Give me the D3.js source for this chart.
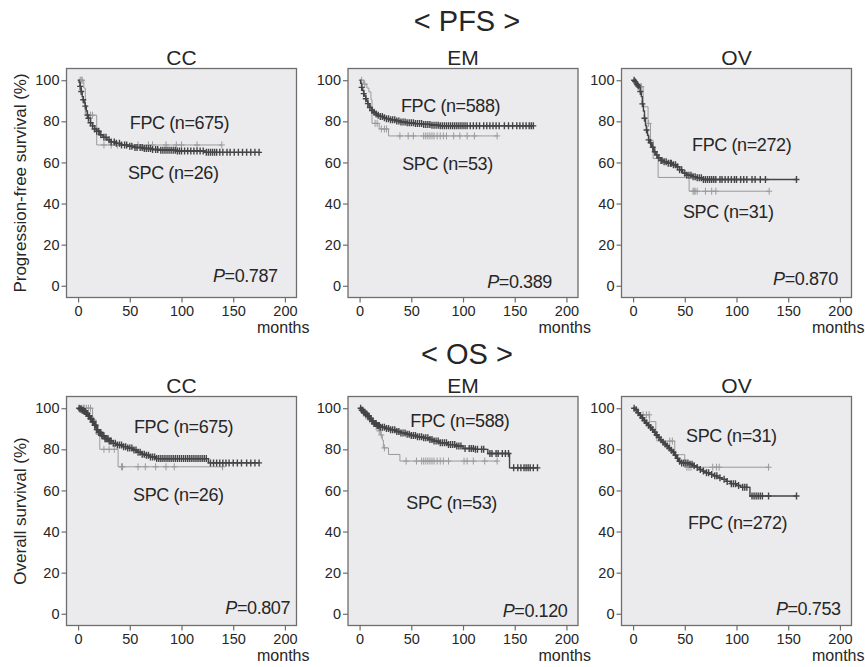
<!DOCTYPE html>
<html>
<head>
<meta charset="utf-8">
<script src="https://cdn.jsdelivr.net/npm/d3@7"></script>
<style>
  body { margin: 0; background: #fff; }
  text { font-family: "Liberation Sans", Arial, sans-serif; fill: #262626; }
</style>
</head>
<body>
<script>
// tick values
var monthTicks = [0, 50, 100, 150, 200];
var pctTicks = [0, 20, 40, 60, 80, 100];
var groups = ["PFS", "OS"];
var sites = ["CC", "EM", "OV"];
var yTitles = ["Progression-free survival (%)", "Overall survival (%)"];

// ---- PFS, CC ----
var pfsCcFpc = [[0,100],[1,99],[2,97],[3,94.5],[4,92],[5,90.5],[6,89],[7,87.4],[8,85],[9,83],[10,81.5],[12,79.3],[14,77.8],[16,76.3],[18,75.2],[21,73.5],[24,72.2],[28,71],[32,70],[36,69.3],[42,68.5],[48,67.9],[55,67.3],[63,66.8],[72,66.3],[79,65.9],[95,65.6],[122,64.9]];
var pfsCcFpcCens = [2,3,5,7,9,10,12,14,16,18,20,22,25,27,30,32,35,37,40,42,45,47,50,52,55,57,60,62,64,66,68,70,72,75,77,80,82,84,86,88,90,92,94,96,98,100,103,106,109,112,115,118,121,124,126,128,130,132,134,137,140,144,147,151,155,159,163,167,171,175];
var pfsCcSpc = [[0,100],[5.5,96.2],[7,83],[18,68.5]];
var pfsCcSpcCens = [2,3,4,12,14,25,32,38,45,58,68,72,85,95,100,115,139];

// ---- PFS, EM ----
var pfsEmFpc = [[0,100],[1,98.5],[2,96.5],[3,95],[4,93.5],[5,92.3],[6,91],[7,89.8],[8,88.6],[9,87.6],[10,86.7],[12,85.3],[14,84.4],[16,83.6],[18,82.9],[20,82.4],[23,81.8],[26,81.3],[30,80.8],[35,80.2],[40,79.7],[46,79.3],[53,78.9],[62,78.5],[70,78.1],[78,77.8]];
var pfsEmFpcCens = [2,4,6,8,10,12,14,16,18,20,22,24,26,28,30,32,34,36,38,40,42,44,46,48,50,52,54,56,58,60,62,64,66,68,70,72,74,76,78,80,82,84,86,88,90,92,94,96,98,100,102,104,107,110,113,116,120,123,126,129,132,135,140,144,148,152,155,158,161,164,166,168];
var pfsEmSpc = [[0,100],[4,98.1],[7,96.2],[9,94.3],[11,90.5],[12,79],[19,76.3],[28,72.9]];
var pfsEmSpcCens = [2,5,15,17,21,24,26,39,47,52,62,64,66,68,70,72,75,78,81,84,91,97,104,111,133];

// ---- PFS, OV ----
var pfsOvFpc = [[0,100],[2,99.3],[3,98.6],[4,97.9],[5,97.2],[6,96.4],[7,94.5],[8,92],[9,88.5],[10,85],[11,81.5],[12,78],[13,75.8],[14,73.2],[15,71],[16,69.5],[18,67.4],[20,65.2],[22,63.7],[24,62.2],[27,61],[30,60.3],[34,59.6],[38,58.9],[42,57.9],[45,56.4],[48,54.8],[52,53.8],[57,53.1],[62,52.5],[68,51.7]];
var pfsOvFpcCens = [1,2,4,5,7,9,11,13,15,17,19,21,23,25,27,28,30,32,34,36,37,39,41,43,45,47,50,52,54,56,58,60,62,64,66,68,70,72,74,76,78,80,84,86,89,92,95,98,100,104,107,110,115,118,123,128,158];
var pfsOvSpc = [[0,100],[3,96.8],[9.7,87.1],[14.5,79],[16.8,70.8],[19.4,61.9],[24.2,52.7],[54.2,46]];
var pfsOvSpcCens = [7,8,15,58,59,60,62,70,76,80,131.6];

// ---- OS, CC ----
var osCcFpc = [[0,100],[2,99.6],[4,99],[6,98.4],[8,97.4],[10,96.2],[12,94.9],[14,93.3],[16,91.7],[18,89.6],[20,88.2],[23,86.6],[26,85.2],[30,84],[34,82.9],[38,82.1],[43,81.3],[48,80.6],[53,79.7],[57,78.6],[61,77.6],[66,77.1],[70,76.3],[75,75.5],[126,73.4]];
var osCcFpcCens = [1,2,3,4,5,6,7,8,9,10,11,12,13,14,15,16,17,18,19,20,21,22,23,24,25,26,27,28,29,30,31,32,34,36,38,40,42,44,46,48,50,52,54,56,58,60,62,64,66,68,70,72,74,76,78,80,82,84,86,88,90,92,94,96,98,100,102,104,106,108,110,112,114,116,118,120,122,124,128,131,134,137,140,143,146,150,154,158,163,167,171,175];
var osCcSpc = [[0,100],[14,94.2],[17.4,87.2],[21,80],[38.7,71.5]];
var osCcSpcCens = [3,5,6,8,10,12,15,25,30,35,42,43,58,65,75,85,93,139.7];

// ---- OS, EM ----
var osEmFpc = [[0,100],[2,99],[4,98],[6,97.2],[8,96.2],[10,95],[12,93.6],[14,92.6],[17,91.6],[20,90.8],[25,90.1],[30,89.5],[35,88.7],[40,88],[45,87.3],[50,86.7],[56,86.1],[62,85.6],[67,84.8],[72,84],[78,83.2],[85,82.3],[93,81.6],[100,80.4],[112,80],[124,78],[145,71]];
var osEmFpcCens = [1,2,3,4,5,6,7,8,9,10,11,12,13,14,15,16,17,18,19,20,22,24,26,28,30,32,34,36,38,40,42,44,46,48,50,52,54,56,58,60,62,64,66,68,70,72,74,76,78,80,82,84,86,88,90,92,94,96,98,102,106,108,110,112,114,118,120,126,128,132,134,138,141,144,149,153,156,159,161,163,165,168,172];
var osEmSpc = [[0,100],[3,98.1],[5,96.2],[8,94.3],[11,93.4],[14,91.2],[18,89],[20,87],[22,84.5],[23,80.7],[28,77.5],[39,74.3]];
var osEmSpcCens = [4,6,10,16,19,21,24,45,55,60,62,64,66,68,70,72,75,78,81,86,101,104,110,121,133];

// ---- OS, OV ----
var osOvFpc = [[0,100],[2,99.2],[4,97.8],[6,96.5],[8,95.3],[10,94],[12,92.8],[14,91.7],[16,90.6],[18,89.6],[20,88.3],[22,87],[24,85.8],[26,84.6],[28,83.5],[30,82.6],[32,81.6],[34,80.6],[36,79.6],[38,78.6],[40,77.2],[42,75.6],[44,74.2],[46,73.4],[55,72.8],[58,72],[61,71.2],[64,70.2],[67,69.4],[70,68.6],[74,67.8],[78,67.1],[82,66.2],[86,65.4],[90,64.4],[94,63.3],[100,62.4],[104,61.5],[113,57.3]];
var osOvFpcCens = [1,3,5,7,9,11,13,15,17,19,21,23,25,27,29,31,33,35,37,39,41,43,45,47,49,51,53,55,57,59,62,65,68,71,73,76,79,81,84,88,91,95,97,99,102,106,108,110,115,117,119,121,123,125,131,158];
var osOvSpc = [[0,100],[5,96.8],[16,93.5],[22,87.1],[23,84],[40.3,77.4],[50,71.3]];
var osOvSpcCens = [9.7,12.9,15.5,22,35.5,38,52,54,56,77,80.6,83.2,131];

var panels = [
  {row:0, col:0, fpc:pfsCcFpc, fpcCens:pfsCcFpcCens, spc:pfsCcSpc, spcCens:pfsCcSpcCens, fpcN:675, spcN:26, p:"0.787"},
  {row:0, col:1, fpc:pfsEmFpc, fpcCens:pfsEmFpcCens, spc:pfsEmSpc, spcCens:pfsEmSpcCens, fpcN:588, spcN:53, p:"0.389"},
  {row:0, col:2, fpc:pfsOvFpc, fpcCens:pfsOvFpcCens, spc:pfsOvSpc, spcCens:pfsOvSpcCens, fpcN:272, spcN:31, p:"0.870"},
  {row:1, col:0, fpc:osCcFpc, fpcCens:osCcFpcCens, spc:osCcSpc, spcCens:osCcSpcCens, fpcN:675, spcN:26, p:"0.807"},
  {row:1, col:1, fpc:osEmFpc, fpcCens:osEmFpcCens, spc:osEmSpc, spcCens:osEmSpcCens, fpcN:588, spcN:53, p:"0.120"},
  {row:1, col:2, fpc:osOvFpc, fpcCens:osOvFpcCens, spc:osOvSpc, spcCens:osOvSpcCens, fpcN:272, spcN:31, p:"0.753"}
];

// where the annotations sit, in data units (months, %)
var labelPos = [
  {fpc:[98,79.3], spc:[92,55], p:[193,4.9]},
  {fpc:[88,87.4], spc:[85,59.5], p:[186,2]},
  {fpc:[105,68.4], spc:[92,36], p:[198,3.6]},
  {fpc:[102,91.2], spc:[97,57.7], p:[205,2.9]},
  {fpc:[97,93.7], spc:[89,54], p:[201,1.3]},
  {fpc:[101,44.3], spc:[95,86.4], p:[200.7,2.4]}
];

var W = 865, H = 667;
var colX = [66.5, 348, 621.5], rowY = [68.5, 396.5];
var pw = 230, ph = 229;
var groupTitleY = [31, 364];

var svg = d3.select("body").append("svg")
    .attr("width", W)
    .attr("height", H);

var x = d3.scaleLinear().domain([-11.2, 211.2]).range([0, pw]);
var y = d3.scaleLinear().domain([-5.7, 105.7]).range([ph, 0]);

// survival at time t from step list
function survAt(steps, t) {
  var s = steps[0][1];
  steps.forEach(function(d) { if (d[0] <= t) s = d[1]; });
  return s;
}

var line = d3.line()
    .x(function(d) { return x(d[0]); })
    .y(function(d) { return y(d[1]); })
    .curve(d3.curveStepAfter);

groups.forEach(function(g, i) {
  svg.append("text")
      .attr("x", 467)
      .attr("y", groupTitleY[i])
      .attr("text-anchor", "middle")
      .style("font-size", "29px")
      .text("< " + g + " >");

  svg.append("text")
      .attr("transform", "translate(" + 26 + "," + (rowY[i] + ph / 2) + ") rotate(-90)")
      .attr("text-anchor", "middle")
      .style("font-size", "17px")
      .text(yTitles[i]);
});

panels.forEach(function(p, k) {
  var gx = colX[p.col], gy = rowY[p.row];
  var g = svg.append("g").attr("transform", "translate(" + gx + "," + gy + ")");

  g.append("rect")
      .attr("width", pw)
      .attr("height", ph)
      .style("fill", "#ebebed")
      .style("stroke", "#6e6e6e")
      .style("stroke-width", 1.3);

  g.append("text")
      .attr("x", pw / 2)
      .attr("y", -4)
      .attr("text-anchor", "middle")
      .style("font-size", "21px")
      .text(sites[p.col]);

  // axes
  var xa = g.append("g")
      .attr("transform", "translate(0," + ph + ")")
      .call(d3.axisBottom(x).tickValues(monthTicks).tickSize(5).tickSizeOuter(0));
  var ya = g.append("g")
      .call(d3.axisLeft(y).tickValues(pctTicks).tickSize(5).tickSizeOuter(0));
  [xa, ya].forEach(function(a) {
    a.select(".domain").remove();
    a.selectAll("line").style("stroke", "#6e6e6e").style("stroke-width", 1.2);
    a.selectAll("text").style("font-size", "14.5px").style("fill", "#262626")
        .style("font-family", "'Liberation Sans', Arial, sans-serif");
  });
  xa.selectAll("text").attr("y", 8);
  ya.selectAll("text").attr("x", -7);

  g.append("text")
      .attr("x", pw + 13)
      .attr("y", ph + 35)
      .attr("text-anchor", "end")
      .style("font-size", "16px")
      .text("months");

  // curves: SPC light, FPC dark on top
  var series = [
    {steps: p.spc, cens: p.spcCens, color: "#9a9a9a", w: 1},
    {steps: p.fpc, cens: p.fpcCens, color: "#444", w: 1.4}
  ];
  series.forEach(function(s) {
    var last = s.steps[s.steps.length - 1];
    var end = Math.max(d3.max(s.cens), last[0]);
    var pts = s.steps.concat([[end, last[1]]]);
    g.append("path")
        .datum(pts)
        .attr("d", line)
        .style("fill", "none")
        .style("stroke", s.color)
        .style("stroke-width", s.w);

    g.selectAll(null)
        .data(s.cens)
        .enter().append("path")
        .attr("d", function(t) {
          var cx = x(t), cy = y(survAt(s.steps, t));
          return "M" + (cx - 3) + "," + cy + "h6M" + cx + "," + (cy - 3.5) + "v7";
        })
        .style("stroke", s.color)
        .style("stroke-width", s.w);
  });

  var lp = labelPos[k];
  function note(pos, anchor) {
    return g.append("text")
        .attr("x", x(pos[0]))
        .attr("y", y(pos[1]))
        .attr("dy", "0.35em")
        .attr("text-anchor", anchor)
        .style("font-size", "18px")
        .style("letter-spacing", "-0.4px");
  }
  note(lp.fpc, "middle").text("FPC (n=" + p.fpcN + ")");
  note(lp.spc, "middle").text("SPC (n=" + p.spcN + ")");
  var pt = note(lp.p, "end");
  pt.append("tspan").style("font-style", "italic").text("P");
  pt.append("tspan").text("=" + p.p);
});
</script>
</body>
</html>
